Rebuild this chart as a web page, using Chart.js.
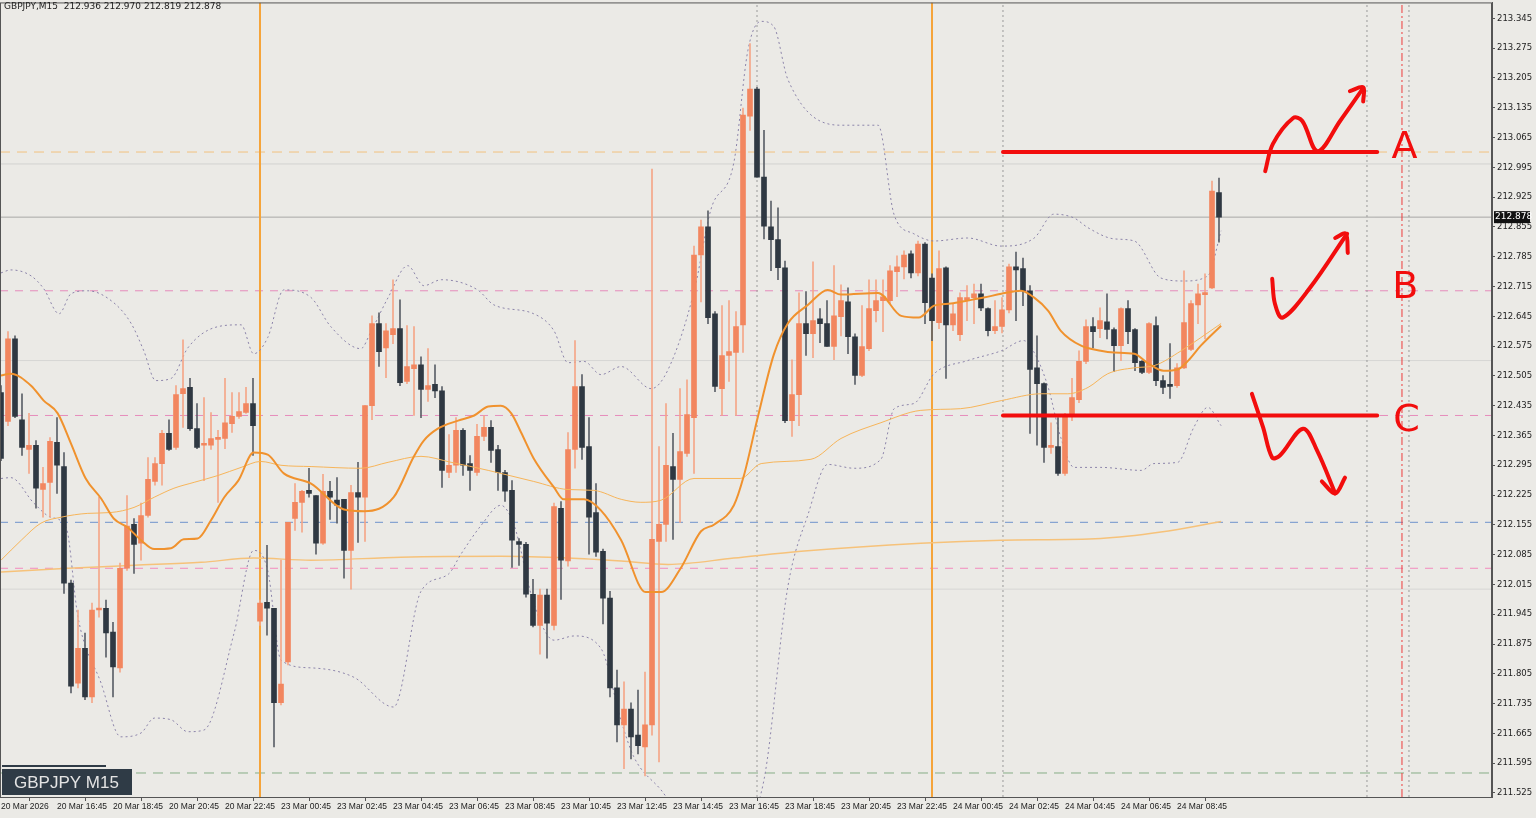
<!DOCTYPE html>
<html><head><meta charset="utf-8">
<script src="https://cdn.jsdelivr.net/npm/chart.js@4.4.1/dist/chart.umd.min.js"></script>
<style>html,body{margin:0;padding:0;background:#ebeae6;overflow:hidden}#wrap{width:1536px;height:818px;position:relative}</style>
</head><body><div id="wrap"><canvas id="c"></canvas></div>
<script>
const timeLabels=["20 Mar 2026","20 Mar 16:45","20 Mar 18:45","20 Mar 20:45","20 Mar 22:45","23 Mar 00:45","23 Mar 02:45","23 Mar 04:45","23 Mar 06:45","23 Mar 08:45","23 Mar 10:45","23 Mar 12:45","23 Mar 14:45","23 Mar 16:45","23 Mar 18:45","23 Mar 20:45","23 Mar 22:45","24 Mar 00:45","24 Mar 02:45","24 Mar 04:45","24 Mar 06:45","24 Mar 08:45"];
const priceTicks=[213.345,213.275,213.205,213.135,213.065,212.995,212.925,212.855,212.785,212.715,212.645,212.575,212.505,212.435,212.365,212.295,212.225,212.155,212.085,212.015,211.945,211.875,211.805,211.735,211.665,211.595,211.525];
const open=[212.466,212.398,212.592,212.402,212.332,212.342,212.238,212.255,212.349,212.292,
212.018,211.783,211.865,211.751,211.955,211.959,211.903,211.819,212.053,212.156,
212.112,212.177,212.257,212.299,212.370,212.337,212.463,212.478,212.381,212.342,
212.342,212.356,212.358,212.393,212.410,212.419,212.440,211.929,211.973,211.959,
211.737,211.833,212.170,212.208,212.236,212.224,212.112,212.234,212.213,212.215,
212.095,212.231,212.220,212.435,212.628,212.571,212.602,212.616,212.492,212.522,
212.531,212.473,212.485,212.470,212.278,212.295,212.377,212.299,212.278,212.363,
212.384,212.332,212.278,212.236,212.116,212.109,211.992,211.919,211.990,211.919,
212.194,212.070,212.332,212.480,212.339,212.184,212.093,211.983,211.772,211.685,
211.722,211.661,211.633,211.685,212.116,212.156,212.292,212.262,212.323,212.407,
212.789,212.855,212.651,212.475,212.553,212.560,212.625,213.115,213.179,212.972,
212.855,212.825,212.759,212.400,212.461,212.628,212.604,212.639,212.628,212.574,
212.644,212.679,212.597,212.506,212.569,212.658,212.682,212.682,212.750,212.761,
212.792,212.747,212.815,212.735,212.630,212.759,212.625,212.602,212.684,212.689,
212.698,212.663,212.611,212.621,212.660,212.761,212.757,212.705,212.524,212.487,
212.337,212.339,212.276,212.410,212.449,212.539,212.621,212.616,212.632,212.614,
212.576,212.663,212.614,212.539,212.513,212.623,212.494,212.485,212.482,212.524,
212.567,212.672,212.696,212.712,212.936];
const high=[212.482,212.609,212.599,212.463,212.417,212.353,212.290,212.360,212.407,212.325,
212.025,211.955,211.901,211.971,212.220,211.978,211.926,212.065,212.224,212.170,
212.206,212.313,212.313,212.377,212.402,212.482,212.590,212.499,212.440,212.454,
212.419,212.377,212.499,212.466,212.466,212.478,212.499,211.978,212.107,211.959,
212.072,212.161,212.252,212.236,212.288,212.224,212.274,212.257,212.266,212.215,
212.248,212.302,212.435,212.646,212.653,212.628,212.731,212.684,212.623,212.621,
212.550,212.569,212.531,212.480,212.367,212.407,212.381,212.318,212.391,212.412,
212.400,212.342,212.283,212.259,212.123,212.114,212.027,212.004,212.004,212.206,
212.210,212.372,212.588,212.508,212.407,212.252,212.098,211.999,211.814,211.786,
211.737,211.767,211.809,212.991,212.339,212.440,212.370,212.475,212.496,212.810,
212.871,212.893,212.656,212.670,212.682,212.656,213.134,213.286,213.183,213.082,
212.916,212.900,212.775,212.543,212.700,212.703,212.773,212.663,212.682,212.764,
212.719,212.712,212.604,212.670,212.731,212.731,212.731,212.764,212.787,212.799,
212.799,212.822,212.818,212.745,212.799,212.761,212.675,212.700,212.717,212.721,
212.721,212.665,212.682,212.689,212.768,212.796,212.782,212.717,212.599,212.489,
212.395,212.407,212.417,212.499,212.564,212.637,212.642,212.665,212.698,212.618,
212.665,212.682,212.616,212.541,212.630,212.644,212.506,212.581,212.534,212.752,
212.682,212.721,212.745,212.963,212.970];
const low=[212.306,212.388,212.407,212.318,212.276,212.194,212.173,212.173,212.229,211.994,
211.760,211.772,211.744,211.737,211.938,211.844,211.751,211.809,212.048,212.041,
212.072,212.173,212.248,212.248,212.330,212.332,212.384,212.377,212.334,212.259,
212.332,212.208,212.334,212.372,212.405,212.417,212.318,211.919,211.896,211.633,
211.732,211.826,212.142,212.138,212.220,212.086,212.109,212.168,212.159,212.030,
212.004,212.114,212.116,212.402,212.527,212.501,212.581,212.482,212.487,212.412,
212.407,212.445,212.454,212.243,212.266,212.278,212.271,212.236,212.271,212.353,
212.302,212.236,212.210,212.055,212.060,211.985,211.915,211.851,211.842,211.908,
211.980,212.058,212.288,212.309,212.086,212.081,211.922,211.751,211.645,211.582,
211.605,211.617,211.565,211.661,211.598,212.116,212.121,212.161,212.316,212.276,
212.679,212.628,212.468,212.412,212.492,212.412,212.560,213.082,212.972,212.827,
212.752,212.731,212.395,212.363,212.388,212.553,212.548,212.583,212.574,212.543,
212.599,212.557,212.485,212.503,212.564,212.632,212.609,212.675,212.691,212.733,
212.735,212.740,212.628,212.588,212.616,212.499,212.611,212.588,212.635,212.628,
212.658,212.599,212.604,212.606,212.653,212.635,212.670,212.370,212.342,212.302,
212.323,212.271,212.271,212.400,212.442,212.534,212.571,212.595,212.592,212.515,
212.541,212.581,212.517,212.510,212.510,212.482,212.463,212.452,212.478,212.522,
212.564,212.628,212.592,212.710,212.819];
const close=[212.311,212.592,212.410,212.337,212.342,212.241,212.252,212.351,212.295,212.018,
211.776,211.865,211.751,211.955,211.959,211.901,211.821,212.053,212.152,212.109,
212.177,212.262,212.299,212.370,212.332,212.461,212.475,212.381,212.337,212.346,
212.358,212.360,212.395,212.410,212.421,212.440,212.388,211.971,211.959,211.737,
211.781,212.161,212.208,212.234,212.229,212.112,212.234,212.220,212.201,212.095,
212.231,212.220,212.435,212.628,212.562,212.611,212.616,212.489,212.527,212.531,
212.473,212.482,212.470,212.283,212.295,212.377,212.295,212.283,212.363,212.384,
212.330,212.278,212.234,212.119,212.109,211.992,211.919,211.990,211.924,212.198,
212.072,212.332,212.480,212.337,212.173,212.091,211.983,211.772,211.685,211.722,
211.657,211.636,211.685,212.121,212.156,212.295,212.262,212.327,212.414,212.789,
212.855,212.642,212.480,212.553,212.562,212.621,213.118,213.179,212.972,212.857,
212.825,212.759,212.400,212.461,212.628,212.604,212.635,212.628,212.574,212.646,
212.682,212.597,212.506,212.574,212.663,212.682,212.691,212.752,212.761,212.789,
212.747,212.815,212.677,212.635,212.757,212.625,212.651,212.689,212.689,212.698,
212.665,212.611,212.621,212.660,212.761,212.754,212.705,212.520,212.487,212.337,
212.342,212.276,212.410,212.454,212.539,212.621,212.609,212.635,212.614,212.576,
212.663,212.609,212.536,212.513,212.628,212.494,212.478,212.480,212.524,212.630,
212.675,212.698,212.698,212.939,212.878];
const maFast=[[0,212.506],[1.4,212.510],[4.3,212.482],[6.1,212.447],[8.1,212.417],[10,212.346],[12.1,212.264],[14.3,212.217],[16.1,212.170],[18.1,212.149],[20,212.119],[21.9,212.098],[24.3,212.100],[26.1,212.121],[28.1,212.123],[30,212.166],[31.9,212.220],[33.9,212.259],[36.1,212.325],[38.1,212.320],[40.4,212.276],[44.3,212.252],[49,212.191],[51.9,212.187],[56.1,212.220],[59,212.316],[60.4,212.353],[62.4,212.381],[65.3,212.400],[67.6,212.412],[69.6,212.433],[71.4,212.435],[72.9,212.417],[74.3,212.372],[76.1,212.311],[79,212.243],[80.4,212.215],[83.3,212.215],[85.7,212.189],[88.6,212.119],[92.1,211.997],[94.3,211.997],[97.1,212.053],[100,212.140],[101.9,212.156],[104.7,212.201],[106.1,212.269],[108.1,212.407],[110.4,212.555],[112.4,212.628],[115.3,212.672],[118.1,212.707],[120,212.696],[125.3,212.700],[128.6,212.646],[131.1,212.642],[133.3,212.670],[135.7,212.675],[138.1,212.682],[140.4,212.689],[142.9,212.698],[145.7,212.705],[147.6,212.689],[149.6,212.658],[151.4,212.611],[154.3,212.576],[157.1,212.564],[159,212.560],[161.9,212.557],[163.9,212.534],[166.1,212.517],[168.1,212.520],[169.6,212.541],[171.4,212.576],[174.3,212.623]];
const maMid=[[0,212.072],[2.9,212.119],[5.7,212.159],[8.6,212.173],[12.4,212.182],[15.7,212.184],[19,212.196],[21.9,212.220],[24.7,212.241],[27.6,212.255],[31,212.271],[34.3,212.290],[37.1,212.304],[40,212.295],[44.3,212.292],[51.4,212.288],[55.3,212.302],[60,212.316],[64.3,212.302],[69.6,212.283],[76.1,212.257],[81,212.238],[84.7,212.236],[88.6,212.215],[91.4,212.208],[94.3,212.213],[99,212.264],[105.6,212.264],[108.6,212.299],[115.7,212.309],[120,212.358],[125.7,212.395],[131.4,212.424],[137.1,212.428],[142.9,212.447],[148.6,212.463],[152.4,212.463],[155.3,212.478],[158.1,212.510],[161.9,212.524],[164.7,212.529],[168.6,212.564],[171.4,212.595],[174.3,212.628]];
const maSlow=[[0,212.044],[9.6,212.053],[19,212.060],[28.6,212.067],[36.1,212.077],[44.3,212.072],[57.1,212.079],[71.4,212.081],[81,212.077],[88.6,212.070],[95.3,212.062],[104.7,212.077],[114.3,212.093],[131.4,212.112],[142.9,212.119],[157.1,212.123],[165.7,212.138],[174.3,212.163]];
const bbUpper=[[0,212.747],[1.4,212.754],[4.3,212.740],[6.1,212.710],[8.3,212.651],[10,212.698],[12.4,212.705],[16.1,212.677],[18.6,212.628],[20.4,212.564],[22.1,212.494],[24.3,212.499],[26.7,212.571],[30.4,212.618],[34.3,212.625],[36.1,212.557],[38.1,212.595],[40.4,212.707],[44.3,212.689],[47.1,212.621],[51.4,212.569],[52.9,212.611],[55.3,212.689],[58.1,212.764],[60.4,212.717],[62.9,212.731],[68.1,212.707],[70.4,212.672],[76.1,212.651],[79,212.611],[81,212.536],[83.3,212.539],[85.7,212.508],[88.6,212.527],[92.9,212.475],[95.3,212.520],[99,212.703],[101.4,212.895],[104.7,213.007],[106.7,213.270],[108.6,213.338],[110.4,213.326],[112.4,213.202],[120,213.094],[125.3,213.094],[127.6,212.883],[130.4,212.839],[133.3,212.822],[138.1,212.829],[142.9,212.810],[147.6,212.829],[150.4,212.885],[153.3,212.876],[155.3,212.853],[159,212.827],[161.9,212.822],[165.7,212.735],[169,212.728],[172.4,212.740],[174.3,212.846]];
const bbLower=[[0,212.264],[1.4,212.266],[4.7,212.206],[7.1,212.173],[9.3,212.149],[11,211.938],[14.3,211.783],[17.1,211.657],[20,211.666],[21.9,211.701],[24.3,211.697],[26.7,211.669],[29,211.673],[33.3,211.901],[36.1,212.095],[38.1,212.048],[40,211.837],[44.3,211.819],[50.4,211.797],[56.1,211.727],[60,211.999],[63.9,212.039],[65.7,212.086],[68.6,212.154],[71.4,212.201],[73.3,212.154],[76.1,211.971],[79,211.884],[81.9,211.894],[85.7,211.865],[88.6,211.694],[90.4,211.610],[94.3,211.532],[100,211.415],[105.7,211.439],[109,211.556],[112.4,212.009],[115.3,212.180],[118.1,212.297],[121.9,212.288],[125.7,212.309],[127.6,212.428],[130.4,212.440],[133.3,212.510],[138.1,212.541],[142.9,212.564],[146.1,212.588],[147.6,212.560],[149.6,212.478],[151.4,212.360],[153.3,212.290],[157.1,212.290],[162.9,212.283],[164.7,212.299],[168.1,212.302],[170.4,212.384],[172.4,212.431],[174.3,212.388]];
const hLevels=[213.031,213.003,212.878,212.705,212.541,212.412,212.161,212.053,212.004,211.572];
const hColors=["#f2c27e","#d2d2d0","#a8a8a6","#e68cbc","#d6d6d4","#e68cbc","#6f93cc","#f28cbf","#d6d6d4","#86ad86"];
const hDash=[[10,7],[],[],[8,7],[],[8,7],[8,7],[8,7],[],[10,7]];
const vLines=[37,133,108,143.14,195.14,200.14,201.14];
const vColors=["#f5a43a","#f5a43a","#9a9a9a","#9a9a9a","#9a9a9a","#ee3b3b","#9a9a9a"];
const vDash=[[],[],[2,3],[2,3],[2,3],[8,3,2,3],[2,3]];
const levelA=213.031, levelC=212.412, levelStart=143.14, levelEnd=196.6;
const strokeA=[[180.6,212.986],[181.7,213.050],[184.6,213.111],[185.9,213.104],[188.1,213.033],[191.3,213.104],[194.6,213.181]];
const headA=[[192.7,213.174],[194.6,213.183],[194.6,213.150]];
const strokeB=[[181.6,212.733],[182,212.674],[183.1,212.642],[187,212.712],[192.3,212.839]];
const headB=[[190.6,212.829],[192.1,212.839],[192.4,212.794]];
const strokeC=[[178.7,212.463],[180.3,212.384],[181.6,212.313],[182.7,212.318],[186,212.381],[188,212.330],[190.6,212.229]];
const headC=[[188.7,212.257],[190.6,212.229],[192,212.266]];
const letters=[["A",200.5,213.040],["B",200.6,212.712],["C",200.8,212.398]];
const lastQuote="GBPJPY,M15  212.936 212.970 212.819 212.878";

const X_MIN=-0.143,X_MAX=213,Y_MIN=211.5156,Y_MAX=213.3825;
const pts=a=>a.map(p=>({x:p[0],y:p[1]}));
const bull=open.map((o,i)=>close[i]>=o);
const ds=[];
hLevels.forEach((v,i)=>ds.push({type:'line',data:[{x:X_MIN,y:v},{x:X_MAX,y:v}],borderColor:hColors[i],borderWidth:1,borderDash:hDash[i],pointRadius:0,order:20}));
vLines.forEach((v,i)=>ds.push({type:'line',data:[{x:v,y:Y_MIN},{x:v,y:Y_MAX}],borderColor:vColors[i],borderWidth:vColors[i]=="#f5a43a"?2:1,borderDash:vDash[i],pointRadius:0,order:19}));
const lineDs=(d,c,w,dash,ord)=>({type:'line',data:pts(d),borderColor:c,borderWidth:w,borderDash:dash||[],pointRadius:0,tension:0.4,cubicInterpolationMode:'monotone',order:ord});
ds.push(lineDs(maSlow,'#f6c27a',1.5,null,8));
ds.push(lineDs(bbUpper,'#8c84aa',1,[2,3],7));
ds.push(lineDs(bbLower,'#8c84aa',1,[2,3],7));
ds.push({type:'bar',data:open.map((o,i)=>({x:i,y:[low[i],high[i]]})),backgroundColor:bull.map(b=>b?'#f4a688':'#5b6068'),barThickness:1,grouped:false,order:6});
ds.push({type:'bar',data:open.map((o,i)=>({x:i,y:[Math.min(o,close[i]),Math.max(o,close[i])]})),backgroundColor:bull.map(b=>b?'#f2865f':'#2f3842'),barThickness:5,minBarLength:2,grouped:false,order:5});
ds.push(lineDs(maMid,'#f7b55a',1,null,4));
ds.push(lineDs(maFast,'#f0922e',2,null,3));
const red=(d,w)=>({type:'line',data:pts(d),borderColor:'#f20d0d',borderWidth:w,pointRadius:0,tension:0.35,borderCapStyle:'round',borderJoinStyle:'round',order:1});
ds.push(red([[levelStart,levelA],[levelEnd,levelA]],4));
ds.push(red([[levelStart,levelC],[levelEnd,levelC]],4));
[strokeA,headA,strokeB,headB,strokeC,headC].forEach(s=>ds.push(red(s,4)));

const deco={id:'deco',
beforeDraw(c){const g=c.ctx;g.save();g.fillStyle='#ebeae6';g.fillRect(0,0,c.width,c.height);g.restore();},
afterDraw(c){const g=c.ctx,a=c.chartArea,ys=c.scales.y,xs=c.scales.x;g.save();
g.strokeStyle='#555';g.lineWidth=1;g.strokeRect(a.left+0.5,a.top+0.5,a.right-a.left-1,a.bottom-a.top);
g.font='9px "DejaVu Sans"';g.fillStyle='#222';g.textBaseline='middle';g.fillText(lastQuote,4,7);
g.fillStyle='#2f3b46';g.fillRect(2,765,104,2);g.fillRect(2,769,130,26);
g.fillStyle='#e4e4e4';g.font='17px "Liberation Sans"';g.fillText('GBPJPY M15',14,783);
const py=ys.getPixelForValue(close[close.length-1]);g.fillStyle='#111';g.fillRect(a.right+2,py-6,36,12);
g.fillStyle='#fff';g.font='9px "DejaVu Sans"';g.fillText(close[close.length-1].toFixed(3),a.right+3,py);
g.fillStyle='#f20d0d';g.font='38px "DejaVu Sans"';g.textAlign='center';
letters.forEach(l=>g.fillText(l[0],xs.getPixelForValue(l[1]),ys.getPixelForValue(l[2])));
g.restore();}};

new Chart(document.getElementById('c'),{type:'bar',data:{datasets:ds},plugins:[deco],
options:{responsive:true,maintainAspectRatio:false,animation:false,devicePixelRatio:1,
layout:{padding:{top:1,left:0,right:0,bottom:0}},
plugins:{legend:{display:false},tooltip:{enabled:false}},
scales:{
x:{type:'linear',min:X_MIN,max:X_MAX,offset:false,
 afterBuildTicks:s=>{s.ticks=timeLabels.map((t,i)=>({value:i*8}));},
 afterFit:s=>{s.height=21;},
 grid:{drawOnChartArea:false,tickLength:4,color:'#555'},border:{display:false},
 ticks:{autoSkip:false,maxRotation:0,align:'start',padding:1,color:'#222',font:{family:'Liberation Sans',size:8.5},callback:(v)=>timeLabels[Math.round(v/8)]}},
y:{position:'right',min:Y_MIN,max:Y_MAX,
 afterBuildTicks:s=>{s.ticks=priceTicks.map(v=>({value:v}));},
 afterFit:s=>{s.width=44;},
 grid:{drawOnChartArea:false,tickLength:3,color:'#555'},border:{display:true,color:'#555'},
 ticks:{padding:2,color:'#222',font:{family:'DejaVu Sans',size:8.5,lineHeight:0.1},callback:v=>Number(v).toFixed(3)}}
}}});
</script></body></html>
